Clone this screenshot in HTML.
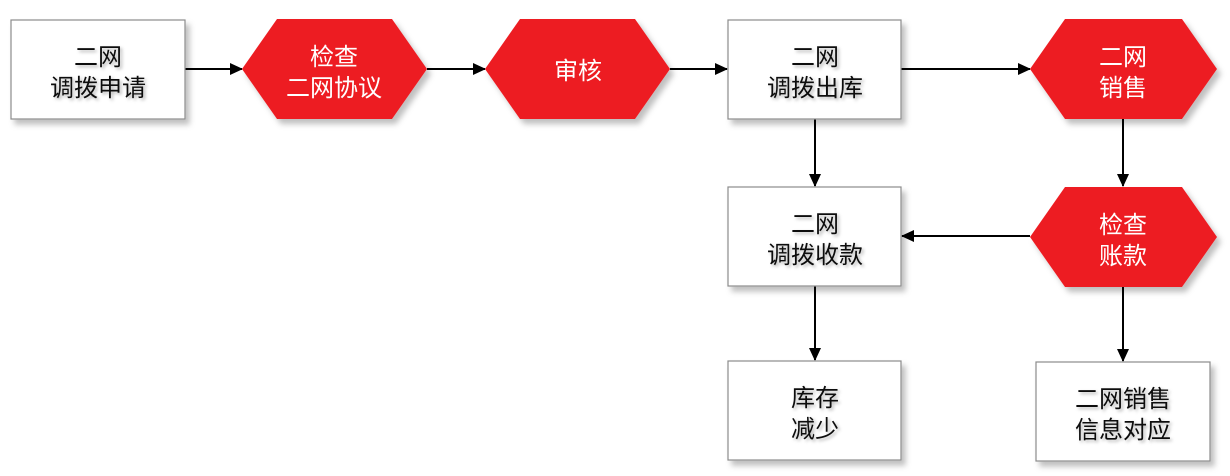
<!DOCTYPE html>
<html><head><meta charset="utf-8"><style>
html,body{margin:0;padding:0;background:#fff;width:1230px;height:476px;overflow:hidden}
text{font-family:"Liberation Sans","Noto Sans CJK SC",sans-serif;font-size:24px;text-anchor:middle}
</style></head><body>
<svg width="1230" height="476" viewBox="0 0 1230 476" xmlns="http://www.w3.org/2000/svg">
<defs>
<filter id="sh" x="-10%" y="-10%" width="130%" height="140%"><feDropShadow dx="4" dy="5" stdDeviation="3" flood-color="#000" flood-opacity="0.25"/></filter>
<filter id="ts" x="-10%" y="-20%" width="130%" height="160%"><feDropShadow dx="2" dy="2" stdDeviation="1.5" flood-color="#000" flood-opacity="0.3"/></filter>
<marker id="a" markerWidth="13" markerHeight="12" refX="12" refY="6" orient="auto" markerUnits="userSpaceOnUse"><path d="M0,0 L13,6 L0,12 z" fill="#000"/></marker>
</defs>
<g stroke="#000" stroke-width="2" fill="none" marker-end="url(#a)">
<line x1="185" y1="69" x2="242" y2="69"/>
<line x1="427" y1="69" x2="485" y2="69"/>
<line x1="670" y1="69" x2="727" y2="69"/>
<line x1="901" y1="69" x2="1030" y2="69"/>
<line x1="815" y1="119" x2="815" y2="186"/>
<line x1="1123" y1="119" x2="1123" y2="186"/>
<line x1="1030" y1="236" x2="902" y2="236"/>
<line x1="815" y1="286" x2="815" y2="360"/>
<line x1="1123" y1="287" x2="1123" y2="361"/>
</g>
<g fill="#fff" stroke="#8c8c8c" stroke-width="1.2" filter="url(#sh)">
<rect x="11" y="20" width="174" height="99"/>
<rect x="728" y="20" width="173" height="99"/>
<rect x="728" y="187" width="173" height="99"/>
<rect x="728" y="361" width="173" height="99"/>
<rect x="1036" y="362" width="174" height="99"/>
</g>
<g fill="#ed1c24" filter="url(#sh)">
<polygon points="242,69 277,19 392,19 427,69 392,119 277,119"/>
<polygon points="485,69 520,19 635,19 670,69 635,119 520,119"/>
<polygon points="1030,69 1065,19 1182,19 1217,69 1182,119 1065,119"/>
<polygon points="1030,237 1065,187 1182,187 1217,237 1182,287 1065,287"/>
</g>
<g fill="#111" filter="url(#ts)">
<text x="98" y="65">二网</text><text x="98" y="96">调拨申请</text>
<text x="815" y="65">二网</text><text x="815" y="96">调拨出库</text>
<text x="815" y="232">二网</text><text x="815" y="263">调拨收款</text>
<text x="815" y="406">库存</text><text x="815" y="437">减少</text>
<text x="1123" y="407">二网销售</text><text x="1123" y="438">信息对应</text>
</g>
<g fill="#fff">
<text x="334" y="65">检查</text><text x="334" y="96">二网协议</text>
<text x="578" y="79">审核</text>
<text x="1123" y="65">二网</text><text x="1123" y="96">销售</text>
<text x="1123" y="233">检查</text><text x="1123" y="264">账款</text>
</g>
</svg>
</body></html>
